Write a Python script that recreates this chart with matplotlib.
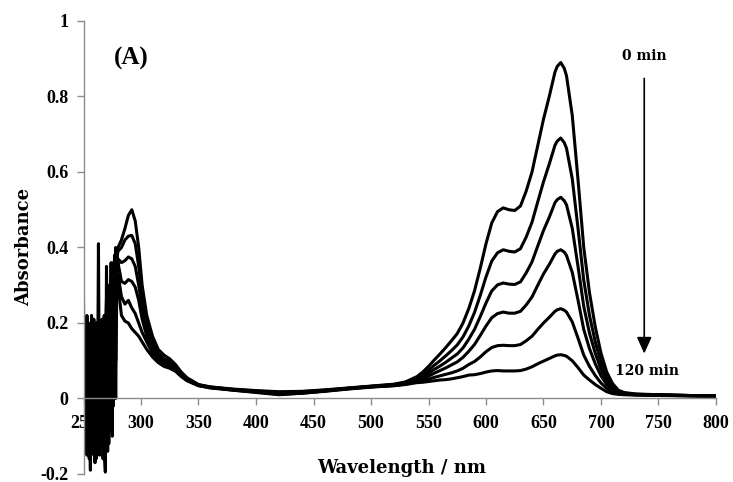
import matplotlib
matplotlib.use('Agg')
from matplotlib import pyplot as plt

# wavelength grids (nm)
noise_wl = list(range(250, 280))
uv_wl = [280, 283, 286, 289, 292, 295, 298, 301, 305, 310, 315, 320, 325, 330, 335, 340, 350,
         360, 370, 380, 400, 420, 440, 460, 480]
vis_wl = [500, 520, 530, 540, 545, 550, 555, 560, 565, 570, 575, 580, 585, 590, 595, 600, 605,
          610, 615, 620, 625, 630, 635, 640, 645, 650, 655, 660, 662, 665, 668, 670, 675, 680,
          685, 690, 695, 700, 705, 710, 715, 720, 730, 750, 775, 800]

# noisy detector region below ~280 nm
noise_0 = [0.26, -0.12, 0.21, -0.15, 0.18, -0.05, -0.19, 0.22, -0.08, 0.15, -0.17, 0.2, -0.1, 0.41, -0.12,
           0.1, -0.05, 0.18, -0.14, -0.195, 0.35, -0.08, 0.3, 0.05, 0.36, -0.1, 0.25, 0.38, 0.1, 0.39]
noise_1 = [0.18, 0.05, -0.14, 0.22, -0.1, 0.12, 0.2, -0.13, 0.17, -0.06, 0.19, -0.16, 0.14, 0.02, 0.2,
           -0.13, 0.16, -0.1, 0.22, 0.05, -0.12, 0.3, -0.05, 0.25, 0.32, 0.0, 0.33, 0.15, 0.4, 0.37]
noise_2 = [0.05, 0.2, -0.1, 0.08, 0.19, -0.16, 0.1, 0.15, -0.13, 0.21, -0.03, 0.12, -0.15, 0.18, -0.08,
           0.2, -0.11, 0.12, 0.0, 0.17, 0.26, -0.14, 0.2, -0.06, 0.28, 0.34, -0.02, 0.3, 0.36, 0.35]
noise_3 = [-0.1, 0.15, 0.1, -0.12, 0.05, 0.18, -0.14, 0.0, 0.2, -0.15, 0.13, 0.06, 0.19, -0.12, 0.1,
           0.0, 0.21, -0.16, 0.1, -0.1, 0.22, 0.12, -0.09, 0.3, 0.1, 0.24, 0.36, 0.08, 0.33, 0.35]
noise_4 = [0.1, -0.08, 0.2, 0.0, -0.15, 0.14, 0.05, -0.1, 0.12, 0.2, -0.12, 0.15, 0.03, -0.14, 0.16,
           0.2, -0.09, 0.05, 0.18, -0.13, 0.1, 0.28, -0.12, 0.15, 0.3, -0.05, 0.2, 0.35, 0.0, 0.32]
noise_5 = [0.0, 0.17, -0.1, 0.1, 0.2, -0.12, 0.12, -0.05, 0.18, 0.0, 0.1, -0.13, 0.2, 0.1, -0.15,
           0.12, 0.0, 0.15, -0.12, 0.2, 0.05, -0.1, 0.25, 0.1, -0.08, 0.3, 0.1, 0.2, 0.33, 0.3]

uv_0 = [.40, .42, .45, .485, .50, .47, .40, .30, .22, .165, .13, .115, .105, .09, .07, .055, .037,
        .031, .028, .025, .021, .018, .019, .023, .028]
uv_1 = [.39, .40, .42, .43, .432, .41, .35, .27, .20, .15, .12, .105, .098, .085, .068, .053, .036,
        .030, .027, .024, .020, .016, .018, .022, .027]
uv_2 = [.37, .36, .365, .375, .37, .35, .30, .24, .185, .14, .11, .10, .095, .082, .066, .052, .036,
        .030, .027, .024, .019, .014, .017, .021, .027]
uv_3 = [.36, .31, .305, .315, .31, .295, .26, .21, .165, .13, .105, .095, .09, .078, .063, .05, .035,
        .029, .026, .023, .018, .012, .015, .020, .026]
uv_4 = [.33, .27, .25, .26, .24, .225, .20, .175, .15, .12, .10, .09, .085, .075, .06, .048, .034,
        .029, .026, .022, .017, .011, .014, .020, .026]
uv_5 = [.30, .22, .205, .20, .185, .175, .165, .15, .13, .11, .095, .085, .08, .072, .058, .047, .034,
        .028, .025, .022, .016, .010, .014, .019, .025]

vis_0 = [.033, .038, .044, .058, .07, .085, .102, .118, .135, .153, .172, .200, .238, .285, .345, .41,
         .465, .495, .505, .50, .498, .51, .55, .60, .67, .74, .80, .865, .88, .89, .875, .855, .75,
         .58, .40, .28, .19, .12, .07, .04, .022, .016, .012, .010, .008, .007]
vis_1 = [.032, .037, .042, .054, .063, .075, .088, .100, .113, .127, .142, .163, .192, .228, .273, .322,
         .364, .386, .394, .390, .388, .397, .428, .467, .521, .574, .621, .671, .682, .690, .678, .663, .582,
         .451, .313, .220, .150, .096, .057, .033, .019, .014, .011, .010, .008, .007]
vis_2 = [.032, .036, .041, .051, .058, .067, .077, .086, .096, .107, .118, .134, .157, .183, .217, .253,
         .285, .301, .306, .303, .302, .309, .333, .362, .404, .445, .480, .519, .527, .533, .524, .513, .451,
         .350, .244, .173, .120, .077, .046, .028, .017, .013, .011, .009, .008, .007]
vis_3 = [.031, .035, .039, .048, .053, .059, .067, .074, .081, .089, .097, .109, .125, .143, .167, .192,
         .214, .225, .229, .226, .226, .231, .248, .269, .300, .330, .355, .383, .390, .394, .388, .379, .334,
         .261, .183, .132, .092, .060, .037, .023, .015, .012, .010, .009, .008, .006]
vis_4 = [.031, .034, .038, .045, .048, .051, .056, .060, .064, .068, .073, .080, .090, .098, .110, .124,
         .135, .140, .141, .140, .140, .143, .153, .165, .183, .200, .215, .231, .235, .238, .234, .229, .203,
         .160, .115, .085, .061, .041, .027, .018, .013, .011, .010, .009, .007, .006]
vis_5 = [.030, .034, .037, .042, .043, .045, .047, .049, .050, .052, .055, .058, .062, .063, .066, .070,
         .073, .074, .073, .073, .073, .074, .078, .084, .092, .099, .106, .113, .115, .116, .114, .112, .100,
         .082, .062, .049, .037, .027, .018, .013, .011, .010, .009, .008, .007, .006]

noise = [noise_0, noise_1, noise_2, noise_3, noise_4, noise_5]
uv = [uv_0, uv_1, uv_2, uv_3, uv_4, uv_5]
vis = [vis_0, vis_1, vis_2, vis_3, vis_4, vis_5]

x_ticks = [250, 300, 350, 400, 450, 500, 550, 600, 650, 700, 750, 800]
y_ticks = [-0.2, 0, 0.2, 0.4, 0.6, 0.8, 1]
y_labels = ['-0.2', '0', '0.2', '0.4', '0.6', '0.8', '1']

plt.rcParams['font.family'] = 'Liberation Serif'

fig = plt.figure(figsize=(7.33, 4.82), dpi=100)
ax = fig.add_axes([83.5 / 733, 1 - 474 / 482, (716 - 83.5) / 733, (474 - 21) / 482])

wl = noise_wl + uv_wl + vis_wl
for n, u, v in zip(noise, uv, vis):
    ax.plot(wl, n + u + v, color='black', lw=2.2, solid_joinstyle='round')

ax.set_xlim(250, 800)
ax.set_ylim(-0.2, 1)
ax.set_xticks(x_ticks)
ax.set_yticks(y_ticks)
ax.set_yticklabels(y_labels)

for s in ['top', 'right']:
    ax.spines[s].set_visible(False)
ax.spines['bottom'].set_position(('data', 0))
for s in ['left', 'bottom']:
    ax.spines[s].set_color('#8c8c8c')
    ax.spines[s].set_linewidth(1.0)
ax.tick_params(axis='both', direction='out', length=5, width=1.0, color='#8c8c8c',
               labelsize=13)
ax.tick_params(axis='x', pad=7)
ax.tick_params(axis='y', pad=6)
for lab in ax.get_xticklabels() + ax.get_yticklabels():
    lab.set_fontweight('bold')

fig.text(24 / 733, 1 - 247 / 482, 'Absorbance', rotation=90, ha='center', va='center',
         family='DejaVu Serif', weight='bold', size=13)
fig.text(402 / 733, 1 - 468 / 482, 'Wavelength / nm', ha='center', va='center',
         family='DejaVu Serif', weight='bold', size=13)

ax.text(291.5, 0.902, '(A)', ha='center', va='center', fontsize=18, fontweight='bold')
ax.text(737.6, 0.906, '0 min', ha='center', va='center', family='DejaVu Serif',
        fontweight='bold', fontsize=10)
ax.text(740, 0.074, '120 min', ha='center', va='center', family='DejaVu Serif',
        fontweight='bold', fontsize=10)
ax.annotate('', xy=(737.6, 0.119), xytext=(737.6, 0.848),
            arrowprops=dict(arrowstyle='-|>,head_length=1.0,head_width=0.45', color='black',
                            lw=1.2, shrinkA=0, shrinkB=0))

fig.savefig('out.png', dpi=100)
